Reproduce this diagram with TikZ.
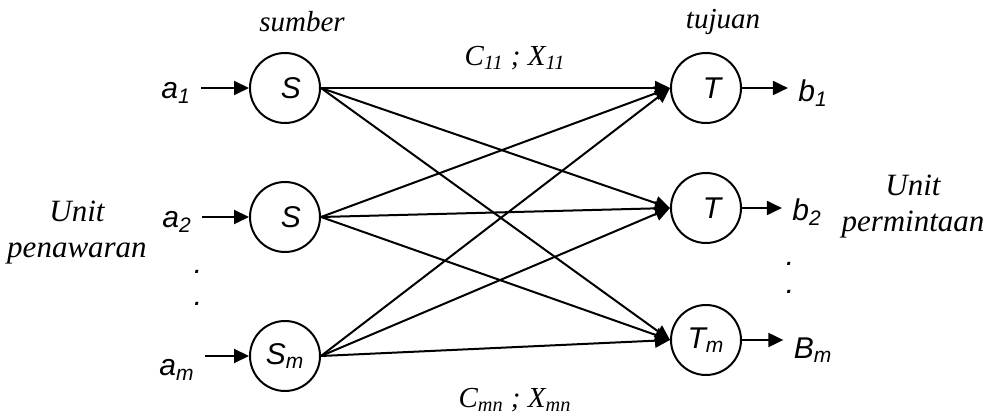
\documentclass[tikz,border=0pt]{standalone}
\usepackage{fontspec}
\setmainfont{Liberation Serif}
\newfontfamily\arialfont{Liberation Sans}
\usetikzlibrary{arrows.meta}

\begin{document}
\begin{tikzpicture}[x=0.5pt, y=-0.5pt, every node/.style={font=\fontsize{14.5}{17}\selectfont\itshape},
  unit/.style={circle, draw, line width=1pt, minimum size=35pt, inner sep=0pt, font=\fontsize{15}{17}\arialfont\itshape},
  qty/.style={inner sep=5pt, font=\fontsize{15}{17}\arialfont\itshape},
  flow/.style={line width=1pt, -{Triangle[length=7.5pt, width=7pt]}}]
  \useasboundingbox (0,0) rectangle (987,416);
  % sources and destinations
  \node[unit] (s1) at (285,88) {\kern6pt S};
  \node[unit] (s2) at (285,217) {\kern6pt S};
  \node[unit] (sm) at (285,356) {S\textsubscript{m}};
  \node[unit] (t1) at (706,88) {\kern6pt T};
  \node[unit] (t2) at (706,208) {\kern6pt T};
  \node[unit] (tm) at (706,340) {T\textsubscript{m}};
  % supply and demand
  \node[qty] (a1) at (176,93) {a\textsubscript{1}};
  \node[qty] (a2) at (177,222) {a\textsubscript{2}};
  \node[qty] (am) at (177,370) {a\textsubscript{m}};
  \node[qty] (b1) at (813,93) {b\textsubscript{1}};
  \node[qty] (b2) at (807,212) {b\textsubscript{2}};
  \node[qty] (bm) at (813,350) {B\textsubscript{m}};
  \foreach \s in {1,2,m} \draw[flow] (a\s.east |- s\s) -- (s\s);
  \foreach \t in {1,2,m} \draw[flow] (t\t) -- (b\t.west |- t\t);
  % every source to every destination
  \foreach \s in {1,2,m}
    \foreach \t in {1,2,m}
      \draw[flow] (s\s.east) -- (t\t.west);
  % dots
  \node[qty, inner sep=0pt] (ldot1) at (198,272) {.};
  \node[qty, inner sep=0pt] (ldot2) at (198,304) {.};
  \node[qty, inner sep=0pt] (rdot1) at (790,264) {.};
  \node[qty, inner sep=0pt] (rdot2) at (790,292) {.};
  % captions
  \node (sumber) at (302,22) {sumber};
  \node (tujuan) at (723,22) {tujuan};
  \node (c11) at (515,58) {C\textsubscript{11} ; X\textsubscript{11}};
  \node (cmn) at (515,400) {C\textsubscript{mn} ; X\textsubscript{mn}};
  \node[align=center, font=\fontsize{15.5}{18}\selectfont\itshape] (supply) at (77,233) {Unit\\penawaran};
  \node[align=center, font=\fontsize{15.5}{18}\selectfont\itshape] (demand) at (913,207) {Unit\\permintaan};
\end{tikzpicture}
\end{document}
